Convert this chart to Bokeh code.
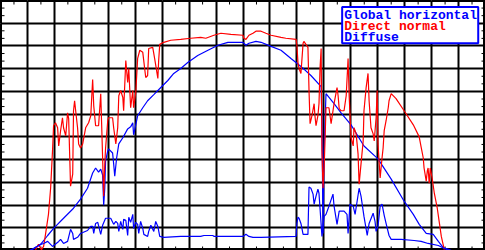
from bokeh.plotting import figure
from bokeh.models import Grid, FixedTicker, BoxAnnotation, Label, Range1d
from bokeh.embed import file_html
from bokeh.resources import INLINE
import numpy as np

# ---- data (hours of day, W/m^2) ----
hours_global = [5.08, 5.23, 5.49, 5.75, 5.97, 6.34, 6.71, 6.97, 7.23, 7.42,
                7.53, 7.64, 7.72, 7.79, 7.83, 7.87, 7.90, 7.98, 8.01, 8.16,
                8.20, 8.24, 8.31, 8.39, 8.54, 8.72, 8.83, 8.91, 8.94, 9.02,
                9.09, 9.28, 9.46, 9.69, 9.95, 10.21, 10.43, 10.69, 10.95, 11.32,
                11.70, 12.07, 12.44, 13.00, 13.11, 13.22, 13.48, 13.67, 14.04, 14.41,
                14.78, 15.15, 15.52, 15.90, 15.93, 15.97, 16.01, 16.08, 16.38, 16.64,
                17.01, 17.49, 18.01, 18.50, 18.98, 19.32, 19.54, 19.80, 20.06, 20.25,
                20.43, 20.65, 20.73]
global_horizontal = [0, 9, 27, 66, 97, 142, 186, 226, 274, 341,
                     363, 345, 358, 332, 199, 274, 394, 438, 447, 429,
                     381, 327, 407, 469, 496, 535, 544, 562, 509, 553,
                     593, 628, 659, 686, 717, 748, 779, 801, 827, 858,
                     881, 903, 916, 916, 903, 912, 920, 916, 898, 881,
                     845, 810, 770, 721, 571, 75, 438, 690, 646, 606,
                     553, 460, 403, 314, 217, 159, 115, 75, 71, 40,
                     13, 4, 0]

hours_direct = [5.30, 5.41, 5.52, 5.60, 5.67, 5.78, 5.86, 5.93, 5.97, 6.04,
                6.12, 6.16, 6.23, 6.30, 6.34, 6.42, 6.49, 6.53, 6.60, 6.68,
                6.71, 6.75, 6.79, 6.86, 6.90, 6.97, 7.05, 7.16, 7.27, 7.35,
                7.42, 7.46, 7.53, 7.64, 7.72, 7.75, 7.79, 7.83, 7.87, 7.90,
                7.98, 8.01, 8.16, 8.20, 8.28, 8.35, 8.39, 8.46, 8.54, 8.57,
                8.65, 8.72, 8.76, 8.83, 8.91, 8.94, 9.02, 9.09, 9.17, 9.28,
                9.39, 9.46, 9.50, 9.65, 9.72, 9.84, 9.87, 9.91, 10.06, 10.32,
                10.69, 11.06, 11.43, 11.62, 11.92, 12.18, 12.55, 13.00, 13.03, 13.11,
                13.22, 13.37, 13.48, 13.67, 13.85, 14.04, 14.41, 14.59, 14.97, 15.00,
                15.04, 15.08, 15.15, 15.23, 15.26, 15.41, 15.45, 15.49, 15.56, 15.64,
                15.67, 15.71, 15.78, 15.82, 15.86, 15.90, 15.93, 15.97, 16.01, 16.04,
                16.08, 16.19, 16.27, 16.34, 16.38, 16.49, 16.53, 16.57, 16.64, 16.75,
                16.83, 16.90, 16.94, 17.01, 17.09, 17.12, 17.20, 17.27, 17.31, 17.38,
                17.46, 17.49, 17.57, 17.64, 17.68, 17.75, 17.83, 17.87, 17.94, 17.98,
                18.01, 18.05, 18.09, 18.16, 18.20, 18.24, 18.31, 18.39, 18.42, 18.50,
                18.68, 18.98, 19.32, 19.54, 19.61, 19.69, 19.72, 19.80, 19.84, 19.87,
                19.91, 19.95, 20.02, 20.10, 20.21, 20.28, 20.36, 20.47]
direct_normal = [4, 27, 4, 18, 71, 159, 274, 438, 549, 562,
                 540, 460, 527, 584, 540, 504, 606, 580, 283, 336,
                 615, 659, 615, 540, 469, 451, 469, 540, 562, 593,
                 752, 637, 549, 549, 690, 571, 407, 239, 381, 451,
                 571, 584, 584, 540, 469, 540, 681, 704, 673, 615,
                 836, 739, 801, 628, 704, 628, 695, 845, 881, 872,
                 761, 770, 889, 894, 845, 757, 836, 907, 916, 925,
                 929, 934, 938, 934, 947, 956, 951, 947, 934, 929,
                 947, 956, 965, 965, 956, 947, 938, 934, 929, 903,
                 827, 801, 779, 912, 920, 894, 704, 558, 593, 646,
                 593, 549, 593, 646, 805, 889, 438, 274, 363, 469,
                 628, 628, 558, 615, 646, 717, 681, 624, 615, 615,
                 681, 845, 681, 496, 460, 540, 513, 425, 292, 381,
                 482, 615, 717, 779, 659, 540, 513, 482, 584, 704,
                 469, 394, 319, 407, 451, 527, 571, 628, 659, 690,
                 668, 615, 553, 500, 456, 407, 363, 305, 350, 363,
                 296, 363, 319, 252, 186, 128, 62, 4]

hours_diffuse = [5.08, 5.23, 5.49, 5.60, 5.75, 5.93, 6.16, 6.23, 6.34, 6.49,
                 6.60, 6.68, 6.71, 6.86, 6.97, 7.23, 7.35, 7.42, 7.46, 7.53,
                 7.61, 7.72, 7.79, 7.90, 8.09, 8.20, 8.28, 8.35, 8.39, 8.46,
                 8.54, 8.57, 8.65, 8.72, 8.76, 8.83, 8.91, 8.94, 9.02, 9.09,
                 9.13, 9.20, 9.28, 9.32, 9.46, 9.50, 9.58, 9.69, 9.76, 9.84,
                 9.91, 10.06, 10.69, 11.43, 11.55, 11.88, 11.92, 13.00, 13.11, 13.22,
                 13.37, 13.67, 14.97, 15.00, 15.04, 15.08, 15.15, 15.23, 15.41, 15.45,
                 15.52, 15.60, 15.64, 15.71, 15.78, 15.82, 15.90, 15.93, 16.01, 16.08,
                 16.19, 16.34, 16.38, 16.49, 16.57, 16.75, 16.86, 16.90, 16.97, 17.09,
                 17.16, 17.31, 17.38, 17.49, 17.61, 17.68, 17.83, 17.90, 17.94, 18.01,
                 18.09, 18.16, 18.24, 18.31, 18.42, 18.50, 18.87, 19.35, 19.61, 19.87,
                 20.25, 20.47, 20.65]
diffuse = [0, 9, 27, 31, 40, 18, 40, 49, 31, 40,
           93, 75, 49, 58, 75, 88, 106, 106, 75, 119,
           124, 71, 111, 142, 142, 115, 128, 119, 84, 128,
           93, 137, 133, 66, 146, 124, 159, 97, 124, 115,
           75, 128, 97, 71, 62, 84, 111, 84, 128, 106,
           62, 58, 62, 62, 66, 66, 62, 62, 71, 62,
           58, 58, 62, 119, 146, 142, 119, 71, 71, 279,
           274, 248, 204, 239, 270, 252, 115, 62, 150, 159,
           195, 248, 195, 115, 173, 173, 159, 75, 204, 195,
           159, 274, 239, 150, 66, 119, 164, 128, 84, 106,
           195, 204, 155, 119, 66, 49, 49, 44, 40, 31,
           22, 9, 0]

series_labels = ["Global horizontal", "Direct normal", "Diffuse"]
series_colors = ["#0000ff", "#ff0000", "#0000ff"]

x_start, x_end = 4, 22
y_start, y_end = 0, 1100
x_major = list(range(5, 22))
y_major = list(range(100, 1100, 100))
x_minor = [h + 0.5 for h in range(4, 22)]
y_minor = [v for v in np.arange(0, 1100.01, 100 / 3) if abs(v / 100 - round(v / 100)) > 0.05]

# ---- figure ----
p = figure(width=485, height=250, x_range=Range1d(x_start, x_end), y_range=Range1d(y_start, y_end),
           x_axis_location=None, y_axis_location=None, toolbar_location=None,
           output_backend="svg", min_border=0)
p.background_fill_color = "white"
p.border_fill_color = "white"
p.outline_line_color = "black"
p.outline_line_width = 3

p.add_layout(Grid(dimension=0, ticker=FixedTicker(ticks=x_major),
                  grid_line_color="black", grid_line_width=2))
p.add_layout(Grid(dimension=1, ticker=FixedTicker(ticks=y_major),
                  grid_line_color="black", grid_line_width=2))

# minor ticks along the frame edges
p.scatter(x_minor, [y_start] * len(x_minor), marker="dash", angle=np.pi / 2, size=8,
          line_color="black", line_width=1)
p.scatter(x_minor, [y_end] * len(x_minor), marker="dash", angle=np.pi / 2, size=8,
          line_color="black", line_width=1)
p.scatter([x_start] * len(y_minor), y_minor, marker="dash", size=8,
          line_color="black", line_width=1)
p.scatter([x_end] * len(y_minor), y_minor, marker="dash", size=8,
          line_color="black", line_width=1)

p.line(hours_global, global_horizontal, line_color=series_colors[0], line_width=1.2)
p.line(hours_direct, direct_normal, line_color=series_colors[1], line_width=1.2)
p.line(hours_diffuse, diffuse, line_color=series_colors[2], line_width=1.2)

# ---- legend box ----
p.add_layout(BoxAnnotation(left=16.68, right=21.73, top=1071, bottom=912,
                           fill_color="white", fill_alpha=1.0,
                           line_color="#0000ff", line_width=2, line_alpha=1.0))
for lab, col, yy in zip(series_labels, series_colors, [1034, 985, 938]):
    p.add_layout(Label(x=16.76, y=yy, text=lab, text_color=col,
                       text_font="Liberation Mono", text_font_style="bold",
                       text_font_size="13px", text_baseline="alphabetic"))

open("out.html", "w").write(file_html(p, INLINE))
